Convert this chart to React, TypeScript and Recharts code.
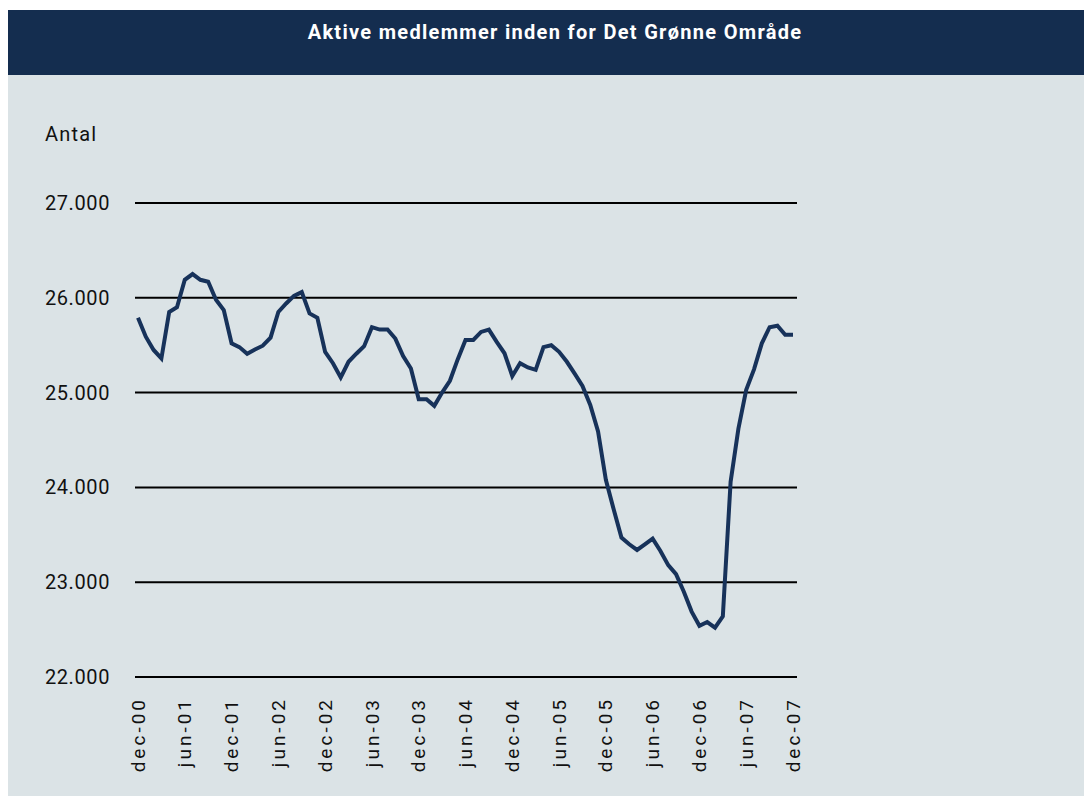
import React from "react";
import { LineChart, Line, XAxis, YAxis, CartesianGrid } from "recharts";

const TITLE = "Aktive medlemmer inden for Det Grønne Område";
const Y_LABEL = "Antal";

const monthNames = ["jan", "feb", "mar", "apr", "maj", "jun", "jul", "aug", "sep", "okt", "nov", "dec"];
const startYear = 2000; // first point: dec-00
const startMonth = 11;

const members = [
  25790, 25590, 25450, 25360, 25850, 25900, 26190, 26250, 26190, 26170, 25980, 25870,
  25520, 25480, 25410, 25455, 25495, 25580, 25850, 25940, 26020, 26060, 25835, 25790,
  25430, 25310, 25160, 25325, 25410, 25490, 25690, 25665, 25665, 25570, 25385, 25255,
  24930, 24930, 24860, 25000, 25125, 25350, 25555, 25555, 25640, 25665, 25535, 25415,
  25175, 25310, 25265, 25240, 25480, 25500, 25430, 25325, 25200, 25070, 24870, 24590,
  24080, 23770, 23470, 23400, 23340, 23400, 23460, 23330, 23180, 23085, 22900, 22690,
  22540, 22580, 22520, 22640, 24060, 24620, 25030, 25245, 25520, 25690, 25705, 25610,
  25610,
];

const yTicks = [22000, 23000, 24000, 25000, 26000, 27000];

const categories = members.map((_, i) => {
  const m = (startMonth + i) % 12;
  const y = startYear + Math.floor((startMonth + i) / 12);
  return `${monthNames[m]}-${String(y % 100).padStart(2, "0")}`;
});

const data = members.map((v, i) => ({ month: categories[i], value: v }));

const NAVY = "#142d4f";
const BG = "#dbe3e6";
const FONT = "Roboto, 'Noto Sans', sans-serif";

const fmt = (v: number) => v.toLocaleString("da-DK").replace(/\u00a0/g, ".").replace(/,/g, ".");

const XTick = (props: any) => {
  const { x, y, payload } = props;
  const ty = y + 12;
  return (
    <text
      x={x}
      y={ty}
      transform={`rotate(-90, ${x}, ${ty})`}
      textAnchor="end"
      dy="0.35em"
      fill="#111"
      fontSize={19}
      letterSpacing={3}
      fontFamily={FONT}
    >
      {payload.value}
    </text>
  );
};

const YTick = (props: any) => {
  const { y, payload } = props;
  return (
    <text x={102} y={y} textAnchor="end" dy="0.35em" fill="#111" fontSize={20} letterSpacing={0.6} fontFamily={FONT}>
      {fmt(payload.value)}
    </text>
  );
};

export default function App() {
  return (
    <div style={{ position: "relative", width: 1084, height: 786, marginTop: 2, background: BG, overflow: "hidden" }}>
      <div
        style={{
          height: 65,
          background: NAVY,
          color: "#fff",
          fontFamily: FONT,
          fontWeight: 700,
          fontSize: 20,
          letterSpacing: 1.3,
          textAlign: "center",
          lineHeight: "44px",
          paddingLeft: 10,
        }}
      >
        {TITLE}
      </div>
      <div
        style={{
          position: "absolute",
          left: 37,
          top: 112,
          fontFamily: FONT,
          fontSize: 20,
          letterSpacing: 1.2,
          color: "#111",
        }}
      >
        {Y_LABEL}
      </div>
      <LineChart
        width={1084}
        height={721}
        data={data}
        margin={{ top: 128, right: 295, bottom: 0, left: 0 }}
      >
        <CartesianGrid vertical={false} stroke="#000" strokeWidth={2} />
        <XAxis
          dataKey="month"
          interval={5}
          tick={<XTick />}
          tickLine={false}
          axisLine={false}
          height={119}
          padding={{ left: 3, right: 4 }}
        />
        <YAxis
          domain={[22000, 27000]}
          ticks={yTicks}
          tick={<YTick />}
          tickLine={false}
          axisLine={false}
          width={127}
          interval={0}
        />
        <Line
          type="linear"
          dataKey="value"
          stroke="#17325a"
          strokeWidth={4}
          dot={false}
          isAnimationActive={false}
        />
      </LineChart>
    </div>
  );
}
